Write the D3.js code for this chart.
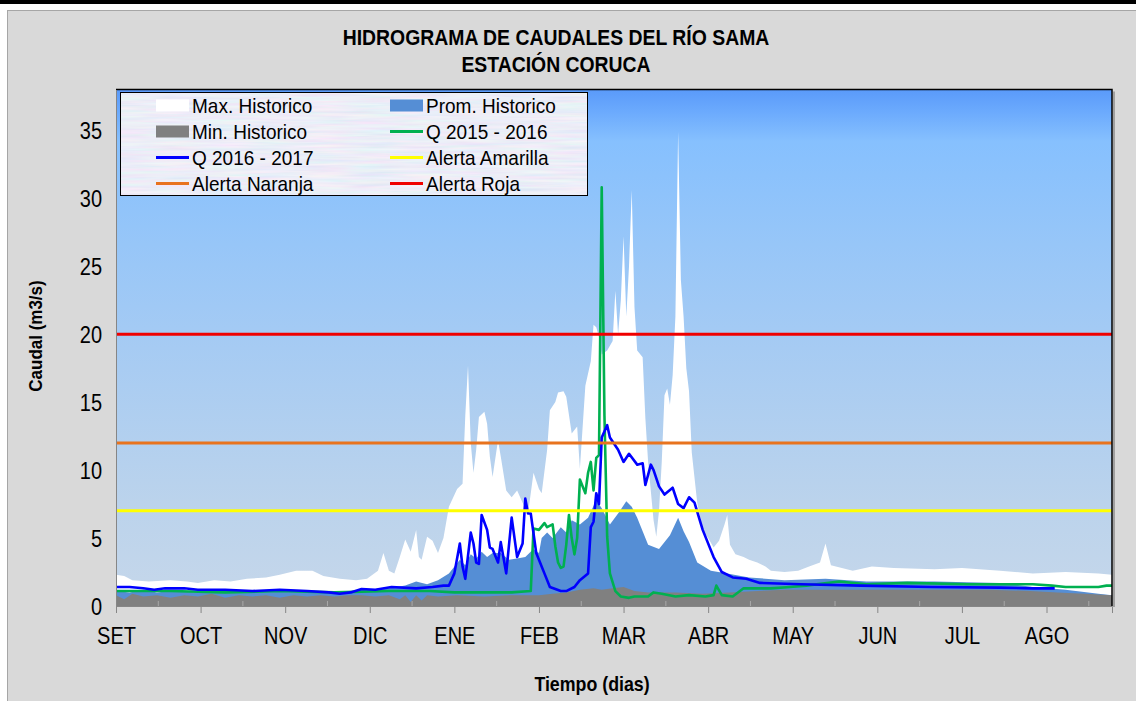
<!DOCTYPE html>
<html>
<head>
<meta charset="utf-8">
<script src="https://cdn.jsdelivr.net/npm/d3@7"></script>
<style>
  body { margin: 0; background: #fff; }
  svg text { font-family: "Liberation Sans", Arial, sans-serif; fill: #000; }
</style>
</head>
<body>
<svg id="chart" width="1136" height="701"></svg>
<script>
// ---- data ----
var months = ["SET","OCT","NOV","DIC","ENE","FEB","MAR","ABR","MAY","JUN","JUL","AGO"];
var monthDays = [0,31,62,93,124,155,186,217,248,279,310,341];
var yTicks = [0,5,10,15,20,25,30,35];

// [day, m3/s]
var maxHist = [[0,2.3],[3,2.2],[6,1.9],[12,1.8],[20,1.9],[26,1.8],[30,1.7],[36,1.9],[42,1.8],[48,2.0],[55,2.1],[60,2.3],[66,2.6],[72,2.6],[76,2.2],[82,2.0],[88,1.9],[92,2.0],[96,2.6],[98,3.9],[100,2.6],[102,2.4],[104,3.6],[106,4.9],[108,4.0],[110,5.6],[111,3.6],[112,3.4],[114,5.1],[116,4.8],[118,3.9],[120,5.0],[122,7.3],[125,8.6],[127,9.0],[128,14.0],[129,17.7],[130,12.0],[131,9.8],[132,11.5],[133,13.9],[135,14.3],[136,13.4],[137,11.0],[138,9.5],[140,12.2],[141,11.0],[143,8.5],[145,8.0],[147,8.5],[149,7.6],[151,6.8],[153,9.8],[155,8.6],[156,8.3],[158,11.5],[159,14.4],[161,15.0],[162,15.7],[164,15.8],[165,15.4],[167,12.7],[169,13.2],[170,10.1],[172,16.2],[174,18.0],[175,20.7],[176,20.5],[177,19.8],[178,18.5],[180,18.8],[182,19.5],[183,23.2],[184,20.0],[185,22.5],[186,27.2],[187,21.3],[188,25.0],[189,30.6],[190,22.0],[191,18.8],[193,18.3],[194,13.8],[195,10.6],[197,6.3],[198,5.1],[199,7.0],[200,10.6],[201,15.5],[202,16.0],[203,14.8],[204,17.0],[205,21.3],[206,34.9],[207,24.0],[208,21.3],[209,17.5],[210,15.8],[211,11.3],[213,7.6],[215,5.6],[217,5.0],[219,4.3],[221,4.8],[223,6.0],[224,6.7],[225,4.5],[227,3.8],[230,3.6],[232,3.4],[235,3.2],[238,2.9],[240,2.6],[245,2.5],[250,2.6],[254,2.9],[258,3.2],[260,4.6],[262,3.0],[266,2.8],[270,2.6],[277,2.9],[285,2.8],[300,2.7],[310,2.8],[324,2.6],[336,2.4],[348,2.5],[360,2.4],[365,2.3]];

var promHist = [[0,1.1],[5,1.0],[10,1.2],[15,1.0],[20,1.1],[30,1.0],[40,1.1],[50,1.0],[60,1.2],[70,1.1],[80,1.0],[90,1.2],[100,1.3],[106,1.5],[110,1.8],[114,1.6],[118,1.9],[122,2.4],[126,3.4],[128,3.0],[130,3.8],[132,3.5],[134,4.0],[136,3.6],[138,3.9],[141,3.9],[144,3.4],[147,3.5],[150,3.6],[153,4.2],[155,3.9],[156,5.0],[158,5.4],[160,5.0],[163,5.8],[165,5.4],[167,6.3],[170,6.0],[173,6.5],[176,7.8],[178,7.2],[181,6.0],[184,6.8],[187,7.7],[189,7.3],[191,6.5],[193,5.5],[195,4.5],[199,4.2],[203,5.2],[206,6.5],[208,5.5],[210,4.7],[213,3.2],[218,2.6],[224,2.4],[232,2.1],[245,1.9],[260,2.0],[275,1.8],[300,1.8],[324,1.7],[336,1.4],[348,1.2],[360,0.9],[365,0.8]];

var minHist = [[0,0.8],[3,0.5],[6,0.9],[10,0.7],[15,0.8],[20,0.6],[25,0.8],[30,0.7],[35,0.9],[40,0.6],[45,0.8],[50,0.7],[55,0.8],[60,0.6],[65,0.8],[70,0.7],[75,0.8],[80,0.7],[85,0.8],[90,0.8],[95,0.7],[100,0.8],[104,0.5],[106,0.8],[108,0.3],[110,0.8],[112,0.4],[114,0.8],[118,0.7],[125,0.8],[135,0.7],[145,0.8],[155,0.8],[160,0.9],[165,1.0],[170,1.2],[175,1.3],[178,1.2],[182,1.3],[186,1.4],[190,1.1],[195,1.0],[205,1.0],[215,0.9],[225,1.0],[235,1.1],[245,1.2],[260,1.2],[280,1.2],[300,1.2],[320,1.2],[335,1.1],[345,1.0],[355,0.9],[365,0.8]];

var q1516 = [[0,1.1],[20,1.1],[40,1.0],[60,1.1],[80,1.0],[100,1.1],[115,1.1],[124,1.0],[135,1.0],[145,1.0],[152,1.1],[153,5.7],[155,5.6],[157,6.1],[158,5.8],[160,6.0],[161,4.4],[162,3.2],[163,2.8],[164,2.9],[165,4.5],[166,6.7],[167,5.0],[168,3.8],[169,5.0],[170,9.3],[172,8.3],[173,9.8],[174,10.6],[175,8.5],[176,10.9],[177,11.1],[178,30.8],[179,14.0],[180,5.1],[181,2.4],[183,1.1],[185,0.7],[188,0.6],[190,0.7],[195,0.7],[197,1.0],[200,0.9],[205,0.7],[210,0.8],[216,0.7],[219,0.8],[220,1.5],[222,0.8],[226,0.7],[230,1.3],[240,1.3],[247,1.4],[253,1.5],[265,1.8],[275,1.6],[290,1.7],[312,1.6],[336,1.6],[343,1.5],[348,1.4],[360,1.4],[363,1.5],[365,1.5]];

var q1617 = [[0,1.4],[5,1.4],[10,1.3],[14,1.2],[18,1.3],[25,1.3],[30,1.2],[40,1.2],[50,1.1],[60,1.2],[70,1.1],[78,1.0],[82,0.9],[86,1.0],[90,1.25],[95,1.2],[101,1.4],[110,1.3],[116,1.4],[120,1.5],[122,1.5],[124,2.4],[126,4.6],[127,2.9],[128,2.0],[130,5.4],[131,4.6],[132,3.2],[133,3.1],[134,6.7],[136,5.6],[137,4.3],[138,4.2],[140,3.2],[141,4.7],[143,2.4],[145,6.5],[147,3.6],[149,4.6],[150,7.9],[151,6.8],[152,6.8],[154,3.9],[157,2.4],[159,1.4],[163,1.1],[165,1.1],[168,1.4],[170,1.9],[173,2.4],[174,5.8],[175,6.2],[176,8.3],[177,7.5],[178,12.4],[180,13.3],[181,12.4],[184,11.5],[186,10.6],[188,11.2],[191,10.4],[193,10.5],[194,8.9],[196,10.4],[197,10.0],[199,8.8],[201,8.2],[204,8.7],[206,7.5],[208,7.2],[210,8.0],[212,7.6],[215,5.6],[219,3.6],[222,2.5],[226,2.1],[231,2.0],[236,1.7],[251,1.6],[273,1.5],[299,1.4],[324,1.35],[336,1.3],[344,1.3]];

var alertNames = ["Alerta Amarilla","Alerta Naranja","Alerta Roja"];
var alertValues = [7, 12, 20];
var alertColors = ["#ffff00", "#e8731e", "#f00000"];

// ---- layout ----
var W = 1136, H = 701;
var L = 116, R = 1112, T = 89.5, B = 606;

var svg = d3.select("#chart");

// text that is a bit taller than the font (the original was stretched vertically)
function tallText(parent, tx, ty, str, size, k, opts) {
  opts = opts || {};
  var t = parent.append("text")
    .attr("transform", "translate(" + tx + "," + ty + ")" + (opts.rotate ? " rotate(" + opts.rotate + ")" : "") + " scale(1," + k + ")")
    .attr("text-anchor", opts.anchor || "start")
    .attr("font-size", size)
    .text(str);
  if (opts.bold) t.attr("font-weight", "bold");
  return t;
}

var defs = svg.append("defs");
var grad = defs.append("linearGradient")
  .attr("id", "bg").attr("x1", 0).attr("y1", 0).attr("x2", 0).attr("y2", 1);
[[0,"#5a9afa"],[0.04,"#6aa9fd"],[0.1,"#86c0fe"],[0.3,"#97c6f8"],[0.5,"#a6cbf3"],[0.8,"#bbd3ec"],[1,"#c6d7ea"]]
  .forEach(function(s) { grad.append("stop").attr("offset", s[0]).attr("stop-color", s[1]); });

var tex = defs.append("filter").attr("id", "tex")
  .attr("x", 0).attr("y", 0).attr("width", 1).attr("height", 1);
tex.append("feTurbulence").attr("type", "fractalNoise")
  .attr("baseFrequency", "0.02 0.35").attr("numOctaves", 2).attr("seed", 4).attr("result", "n");
tex.append("feColorMatrix").attr("in", "n").attr("type", "matrix")
  .attr("values", "0.3 0 0 0 0.69  0 0.22 0 0 0.74  0 0 0.1 0 0.88  0 0 0 0 1").attr("result", "c");
tex.append("feComposite").attr("in", "c").attr("in2", "SourceGraphic").attr("operator", "in");

// page frame
svg.append("rect").attr("x", 0).attr("y", 0).attr("width", W).attr("height", 4).attr("fill", "#000");
svg.append("rect").attr("x", 7.5).attr("y", 10.5).attr("width", W).attr("height", H)
  .attr("fill", "#d9d9d9").attr("stroke", "#a6a6a6");

// title
tallText(svg, 556, 45, "HIDROGRAMA DE CAUDALES DEL RÍO SAMA", 19.4, 1.16, {anchor: "middle", bold: true});
tallText(svg, 556, 71.5, "ESTACIÓN CORUCA", 19.4, 1.16, {anchor: "middle", bold: true});

// scales
var x = d3.scaleLinear().domain([0, 365]).range([L, R]);
var y = d3.scaleLinear().domain([0, 38]).range([B, T]);

// plot background
svg.append("rect").attr("x", L).attr("y", T).attr("width", R - L).attr("height", B - T)
  .attr("fill", "url(#bg)");

var area = d3.area().x(function(d) { return x(d[0]); }).y0(y(0)).y1(function(d) { return y(d[1]); });
var line = d3.line().x(function(d) { return x(d[0]); }).y(function(d) { return y(d[1]); });

svg.append("path").datum(maxHist).attr("d", area).attr("fill", "#ffffff");
svg.append("path").datum(promHist).attr("d", area).attr("fill", "#558ed5");
svg.append("path").datum(minHist).attr("d", area).attr("fill", "#808080");

// minor ticks inside the plot (between months)
svg.append("g").selectAll("line")
  .data(monthDays.map(function(d) { return d + 15.5; }))
  .enter().append("line")
  .attr("x1", function(d) { return x(d); }).attr("x2", function(d) { return x(d); })
  .attr("y1", B).attr("y2", B - 5)
  .attr("stroke", "#a8a8a8").attr("stroke-width", 1);

svg.append("path").datum(q1516).attr("d", line)
  .attr("fill", "none").attr("stroke", "#00b050").attr("stroke-width", 2.6).attr("stroke-linejoin", "round");
svg.append("path").datum(q1617).attr("d", line)
  .attr("fill", "none").attr("stroke", "#0000ff").attr("stroke-width", 2.6).attr("stroke-linejoin", "round");

svg.append("g").selectAll("line").data(alertValues).enter().append("line")
  .attr("x1", L).attr("x2", R)
  .attr("y1", function(d) { return y(d); }).attr("y2", function(d) { return y(d); })
  .attr("stroke", function(d, i) { return alertColors[i]; }).attr("stroke-width", 3);

// frame top/right
svg.append("line").attr("x1", R + 2).attr("x2", R + 2).attr("y1", T + 2).attr("y2", B + 1)
  .attr("stroke", "#a0a0a0").attr("stroke-width", 2);
svg.append("path").attr("d", "M" + L + "," + T + "H" + R + "V" + B)
  .attr("fill", "none").attr("stroke", "#000").attr("stroke-width", 1.5);

// axes
var yAxis = svg.append("g").attr("transform", "translate(" + L + ",0)")
  .call(d3.axisLeft(y).tickValues(yTicks).tickSize(0).tickPadding(14));
yAxis.select(".domain").attr("stroke", "#868686");
yAxis.selectAll("text")
  .attr("font-size", 20).attr("font-family", null)
  .attr("x", null).attr("dy", null)
  .attr("transform", "translate(-14,8.3) scale(1,1.2)");

var xAxis = svg.append("g").attr("transform", "translate(0," + B + ")")
  .call(d3.axisBottom(x).tickValues(monthDays).tickSize(7)
    .tickFormat(function(d, i) { return months[i]; }));
xAxis.select(".domain").attr("stroke", "#868686");
xAxis.selectAll(".tick line").attr("stroke", "#868686");
xAxis.selectAll("text")
  .attr("font-size", 20).attr("font-family", null)
  .attr("y", null).attr("dy", null)
  .attr("transform", "translate(0,38) scale(1,1.2)");

// axis titles
tallText(svg, 42, 336, "Caudal (m3/s)", 17, 1.12, {anchor: "middle", bold: true, rotate: -90});
tallText(svg, 592, 691, "Tiempo (dias)", 17.8, 1.12, {anchor: "middle", bold: true});

// legend
var leg = svg.append("g");
leg.append("rect").attr("x", 120.5).attr("y", 92.5).attr("width", 467).attr("height", 103)
  .attr("fill", "#cdd5ee").attr("filter", "url(#tex)");
leg.append("rect").attr("x", 120.5).attr("y", 92.5).attr("width", 467).attr("height", 103)
  .attr("fill", "none").attr("stroke", "#000");

var legendItems = [
  {name: "Max. Historico", kind: "box", color: "#ffffff"},
  {name: "Prom. Historico", kind: "box", color: "#558ed5"},
  {name: "Min. Historico", kind: "box", color: "#808080"},
  {name: "Q 2015 - 2016", kind: "line", color: "#00b050"},
  {name: "Q 2016 - 2017", kind: "line", color: "#0000ff"},
  {name: alertNames[0], kind: "line", color: alertColors[0]},
  {name: alertNames[1], kind: "line", color: alertColors[1]},
  {name: alertNames[2], kind: "line", color: alertColors[2]}
];
var li = leg.selectAll("g.item").data(legendItems).enter().append("g")
  .attr("class", "item")
  .attr("transform", function(d, i) {
    return "translate(" + (i % 2 ? 390 : 156) + "," + (105.5 + Math.floor(i / 2) * 26) + ")";
  });
li.filter(function(d) { return d.kind === "box"; }).append("rect")
  .attr("x", 0).attr("y", -6).attr("width", 33).attr("height", 12)
  .attr("fill", function(d) { return d.color; });
li.filter(function(d) { return d.kind === "line"; }).append("line")
  .attr("x1", 0).attr("x2", 33).attr("y1", 0).attr("y2", 0)
  .attr("stroke", function(d) { return d.color; }).attr("stroke-width", 3);
li.each(function(d) {
  tallText(d3.select(this), 36, 7.5, d.name, 19, 1.1);
});
</script>
</body>
</html>
